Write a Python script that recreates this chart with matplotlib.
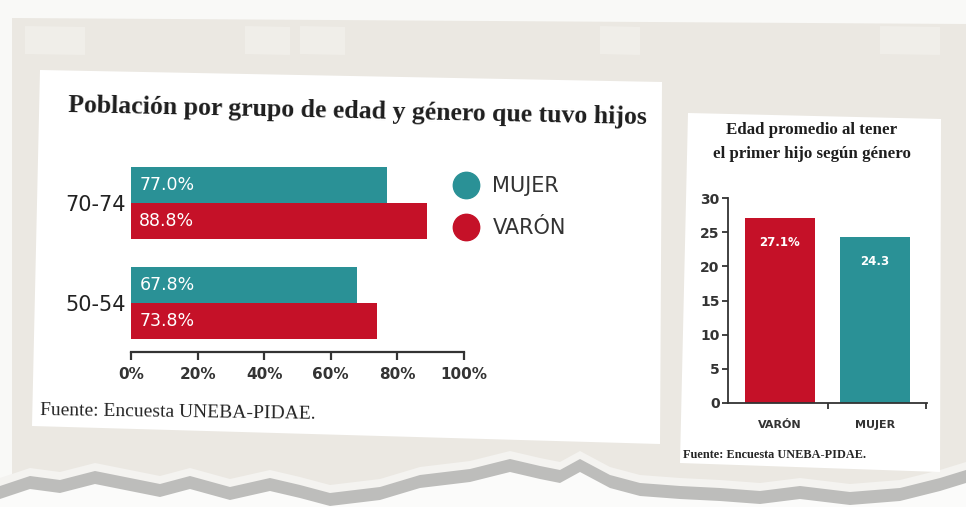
import matplotlib
matplotlib.use("Agg")
import matplotlib.pyplot as plt
from matplotlib.lines import Line2D
from matplotlib.patches import Polygon

# Datos: población por grupo de edad y género que tuvo hijos (%)
age_groups = ["70-74", "50-54"]
mujer_pct = [77.0, 67.8]
varon_pct = [88.8, 73.8]
pct_ticks = [0, 20, 40, 60, 80, 100]

# Datos: edad promedio al tener el primer hijo
gender_labels = ["VARÓN", "MUJER"]
edad_promedio = [27.1, 24.3]
edad_text = ["27.1%", "24.3"]
edad_ticks = [0, 5, 10, 15, 20, 25, 30]

TEAL = "#2a9196"
RED = "#c51128"
INK = "#2b2b2b"
BEIGE = "#ebe8e2"
SERIF = "Liberation Serif"
SANS = "DejaVu Sans"

W, H = 966, 507


def fx(x):
    return x / W


def fy(y):
    return 1 - y / H


def fpoly(pts, **kw):
    # polygon given in pixel coords of the clipping
    return Polygon([(fx(x), fy(y)) for x, y in pts], closed=True,
                   transform=fig.transFigure, **kw)


fig = plt.figure(figsize=(W / 100, H / 100), dpi=100, facecolor="#f9f9f7")

# Paper background, light patches, torn lower edge (behind the axes)
fig.patches.append(fpoly([(12, 18), (966, 24), (966, 500), (12, 500)],
                         facecolor=BEIGE, edgecolor="none", zorder=-5))
for x0, x1 in [(25, 85), (245, 290), (300, 345), (600, 640), (880, 940)]:
    fig.patches.append(fpoly([(x0, 26), (x1, 27), (x1, 55), (x0, 54)],
                             facecolor="#f0eee9", edgecolor="none", zorder=-4))
edge_x = [0, 30, 60, 95, 130, 160, 190, 230, 270, 300, 330, 380, 420, 470,
          510, 540, 560, 580, 610, 640, 680, 720, 760, 800, 850, 900, 940, 966]
edge_y = [486, 476, 480, 471, 478, 484, 476, 487, 478, 485, 493, 487, 475, 469,
          459, 466, 470, 459, 475, 483, 486, 488, 491, 486, 492, 488, 478, 470]
top_edge = list(zip(edge_x, edge_y))
fig.patches.append(fpoly([(x, y - 8) for x, y in top_edge] + [(966, 507), (0, 507)],
                         facecolor="#f4f3f0", edgecolor="none", zorder=-4))
fig.patches.append(fpoly(top_edge + [(966, 507), (0, 507)],
                         facecolor="#bdbdbb", edgecolor="none", zorder=-3))
fig.patches.append(fpoly([(x, y + 13) for x, y in top_edge] + [(966, 507), (0, 507)],
                         facecolor="#fbfbfa", edgecolor="none", zorder=-2))

# White panels
fig.patches.append(fpoly([(40, 70), (662, 82), (660, 444), (32, 426)],
                         facecolor="white", edgecolor="none", zorder=-1))
fig.patches.append(fpoly([(688, 113), (941, 119), (940, 472), (680, 463)],
                         facecolor="white", edgecolor="none", zorder=-1))

# ---- Left chart: horizontal bars ----
ax1 = fig.add_axes([fx(131), fy(352), (464 - 131) / W, (352 - 160) / H])
ax1.set_facecolor("none")
ypos = [1, 0]
bh = 0.36
ax1.barh([y + bh / 2 for y in ypos], mujer_pct, height=bh, color=TEAL,
         label="MUJER")
ax1.barh([y - bh / 2 for y in ypos], varon_pct, height=bh, color=RED,
         label="VARÓN")
for y, m, v in zip(ypos, mujer_pct, varon_pct):
    for yy, val in ((y + bh / 2, m), (y - bh / 2, v)):
        ax1.annotate(f"{val:.1f}%", xy=(0, yy), xytext=(6, 0),
                     textcoords="offset points", ha="left", va="center",
                     color="white", fontsize=12.5, family=SANS)
ax1.set_xlim(0, 100)
ax1.set_ylim(-0.49, 1.43)
ax1.set_xticks(pct_ticks)
ax1.set_xticklabels([f"{t}%" for t in pct_ticks], fontsize=11,
                    fontweight="bold", color="#333333", family=SANS)
ax1.set_yticks(ypos)
ax1.set_yticklabels(age_groups, fontsize=15, color="#222222", family=SANS)
ax1.tick_params(axis="y", length=0, pad=4)
ax1.tick_params(axis="x", direction="out", length=6, width=1.6,
                color="#333333", pad=5)
for side in ("top", "right", "left"):
    ax1.spines[side].set_visible(False)
ax1.spines["bottom"].set_linewidth(1.6)
ax1.spines["bottom"].set_color("#333333")

handles = [
    Line2D([], [], marker="o", ls="", markersize=19, color=TEAL, label="MUJER"),
    Line2D([], [], marker="o", ls="", markersize=19, color=RED, label="VARÓN"),
]
ax1.legend(handles=handles, loc="upper left",
           bbox_to_anchor=(fx(456), fy(176)), bbox_transform=fig.transFigure,
           frameon=False, handlelength=1.0, handletextpad=0.75,
           labelspacing=1.05, borderpad=0, borderaxespad=0,
           prop={"family": SANS, "size": 15}, labelcolor="#333333")

fig.text(fx(68), fy(106), "Población por grupo de edad y género que tuvo hijos",
         ha="left", va="center", fontsize=18.5, fontweight="bold",
         family=SERIF, color="#1e1e1e", rotation=-1.2, rotation_mode="anchor")
fig.text(fx(40), fy(411), "Fuente: Encuesta UNEBA-PIDAE.", ha="left",
         va="center", fontsize=14, family=SERIF, color="#262626",
         rotation=-0.8, rotation_mode="anchor")

# ---- Right chart: vertical bars ----
ax2 = fig.add_axes([fx(728), fy(403), (927 - 728) / W, (403 - 198) / H])
ax2.set_facecolor("none")
xpos = [0, 1]
ax2.bar(xpos, edad_promedio, width=0.74, color=[RED, TEAL])
for x, v, txt in zip(xpos, edad_promedio, edad_text):
    ax2.annotate(txt, xy=(x, v), xytext=(0, -18), textcoords="offset points",
                 ha="center", va="center", color="white", fontsize=8.5,
                 fontweight="bold", family=SANS)
ax2.set_ylim(0, 30)
ax2.set_xlim(-0.547, 1.547)
ax2.set_yticks(edad_ticks)
ax2.set_yticklabels([str(t) for t in edad_ticks], fontsize=10,
                    fontweight="bold", color="#333333", family=SANS)
ax2.set_xticks(xpos)
ax2.set_xticklabels(gender_labels, fontsize=8, fontweight="bold",
                    color="#333333", family=SANS)
ax2.set_xticks([0.5, 1.54], minor=True)
ax2.tick_params(axis="x", which="major", length=0, pad=12)
ax2.tick_params(axis="x", which="minor", direction="out", length=4,
                width=1.3, color="#333333")
ax2.tick_params(axis="y", direction="out", length=4, width=1.3,
                color="#333333", pad=2)
for side in ("top", "right"):
    ax2.spines[side].set_visible(False)
for side in ("left", "bottom"):
    ax2.spines[side].set_linewidth(1.3)
    ax2.spines[side].set_color("#333333")

fig.text(fx(812), fy(142), "Edad promedio al tener\nel primer hijo según género",
         ha="center", va="center", fontsize=12.2, fontweight="bold",
         family=SERIF, color="#1e1e1e", linespacing=1.6)
fig.text(fx(683), fy(455), "Fuente: Encuesta UNEBA-PIDAE.", ha="left",
         va="center", fontsize=8.8, fontweight="bold", family=SERIF,
         color="#262626")

fig.savefig("out.png", dpi=100, facecolor=fig.get_facecolor())
